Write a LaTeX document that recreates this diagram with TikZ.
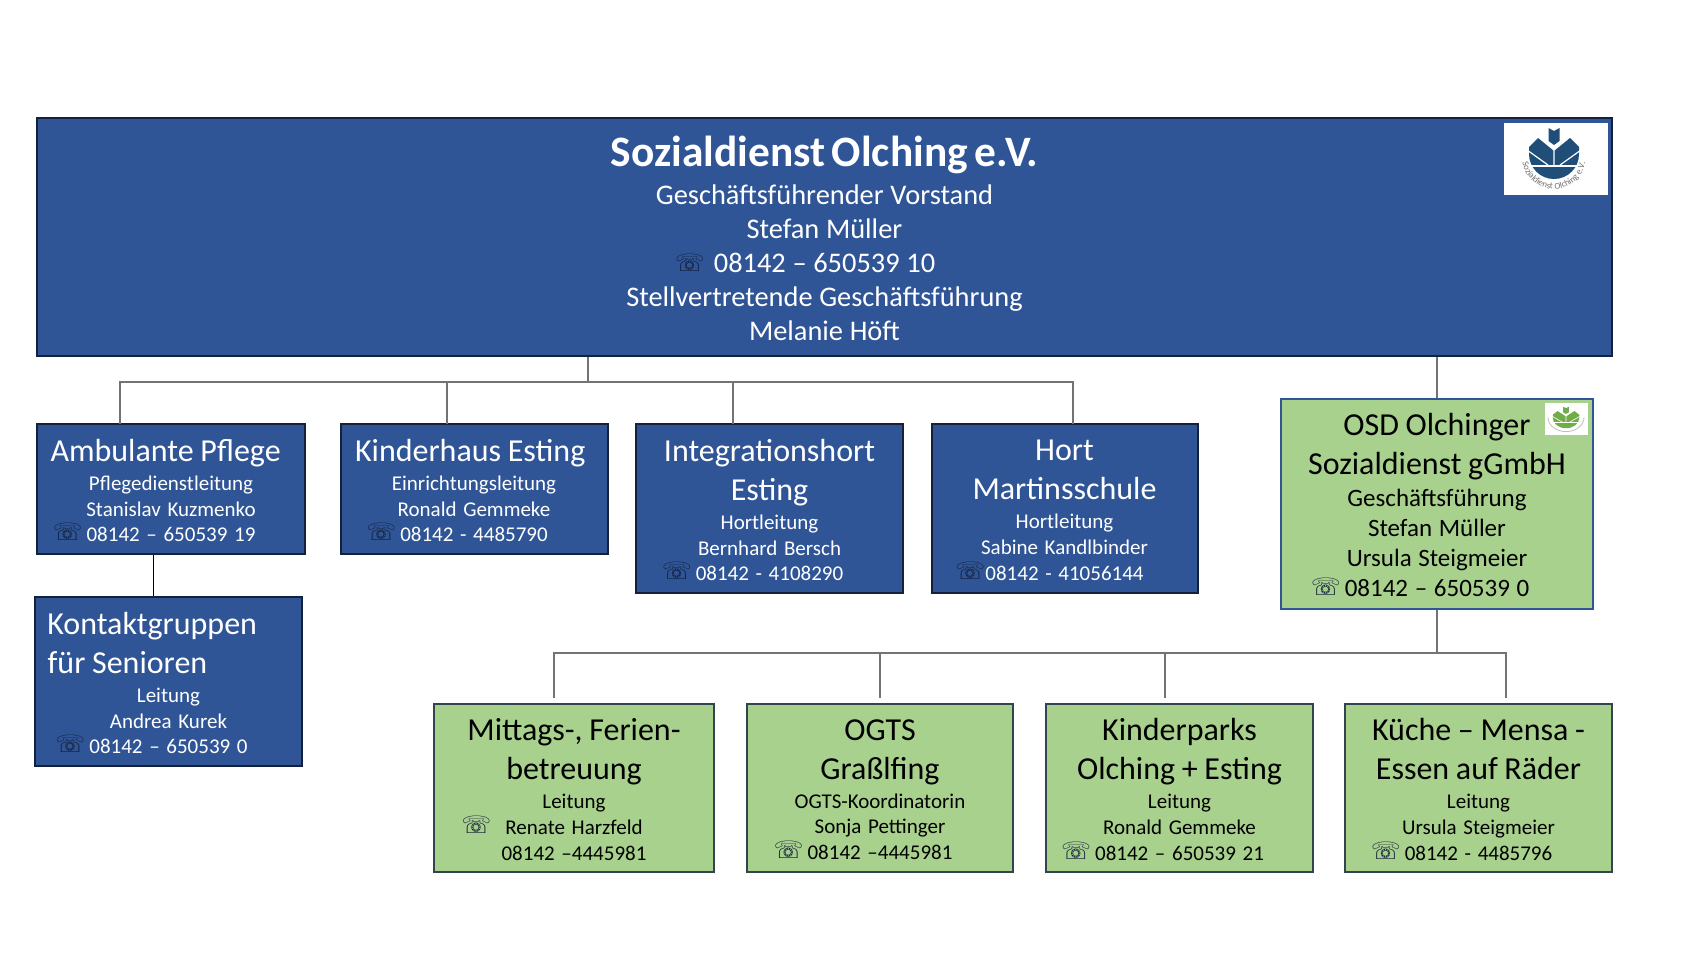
\documentclass[tikz,border=0pt]{standalone}
\usepackage{fontspec}
\setmainfont{Carlito}
\newfontfamily\phonefont{DejaVu Sans}
\usetikzlibrary{positioning}
\usetikzlibrary{decorations.text}
\definecolor{olching_blue}{HTML}{2F5597}
\definecolor{olching_green}{HTML}{A9D18E}
\definecolor{logo_blue}{HTML}{1F4E79}
\definecolor{logo_green}{HTML}{70AD47}
\definecolor{phone_dark}{HTML}{14213D}
\tikzstyle{org_box} = [
    rectangle,
    align=center,
    inner sep=0pt
]
\tikzstyle{blue_box} = [
    org_box,
    white,
    draw=phone_dark,
    line width=1pt,
    fill=olching_blue
]
\tikzstyle{green_box} = [
    org_box,
    black,
    draw=phone_dark!80!olching_green,
    line width=1pt,
    fill=olching_green
]
\tikzstyle{branch} = [
    draw=black!55,
    line width=0.6pt
]
\tikzset{
    box_size/.style 2 args={
        minimum width=#1*0.5pt,
        minimum height=#2*0.5pt,
        text width=#1*0.5pt-4pt
    }
}
\newcommand{\headline}[1]{{\fontsize{16}{19.5}\selectfont #1\par}}
\newcommand{\subline}[1]{{\fontsize{10.5}{12.9}\selectfont #1\par}}
\newcommand{\midline}[1]{{\fontsize{12.5}{15}\selectfont #1\par}}
\newcommand{\topline}[1]{{\fontsize{14.2}{17}\selectfont #1\par}}
\newcommand{\headgap}{\vspace{1.6pt}}
\newcommand{\tailgap}{\vspace{-1.6pt}}
\newcommand{\tel}[1][2pt]{\leavevmode\llap{\smash{\color{phone_dark}\fontsize{12}{12}\phonefont\raisebox{0.5pt}{☏}}\kern#1}}
\newcommand{\sdmark}[2]{
    \fill [#1] (-25,-3) arc (180:0:25) -- (25,-10) -- (16,-19) -- (0,-6) -- (-16,-19) -- (-25,-10) -- cycle;
    \fill [#1] (-5.5,-29) -- (0,-26) -- (5.5,-29) -- (5.5,-16) -- (0,-12) -- (-5.5,-16) -- cycle;
    \draw [white, line width=#2] (-28,9) -- (28,9);
    \draw [white, line width=#2] (0,-8) -- (0,9) (-27,-7) -- (-6,8) (27,-7) -- (6,8);
}
\begin{document}
\begin{tikzpicture}[x=0.5pt, y=-0.5pt]
\useasboundingbox (0,0) rectangle (1707,960);

% top row
\node [blue_box, box_size={1575}{238}, line width=1.2pt] (vorstand) at (824.5,237) {
    {\fontsize{21.7}{24}\bfseries\selectfont Sozialdienst Olching e.V.\par}
    \vspace{2.1pt}
    \topline{Geschäftsführender Vorstand}
    \topline{Stefan Müller}
    \topline{\tel[4.5pt]08142 – 650539 10}
    \topline{Stellvertretende Geschäftsführung}
    \topline{Melanie Höft}
    \vspace{-1.1pt}
};
\node [green_box, box_size={312}{210}, draw=olching_blue] (osd) at (1437,504) {
    \headline{OSD Olchinger}
    \headline{Sozialdienst gGmbH}
    \vspace{1.1pt}
    \midline{Geschäftsführung}
    \midline{Stefan Müller}
    \midline{Ursula Steigmeier}
    \midline{\tel08142 – 650539 0}
    \vspace{-1.1pt}
};

% blue boxes
\node [blue_box, box_size={268}{130}] (pflege) at (171,489) {
    \headline{Ambulante Pflege\kern5.4pt}
    \headgap
    \subline{Pflegedienstleitung}
    \subline{Stanislav Kuzmenko}
    \subline{\tel08142 – 650539 19}
    \tailgap
};
\node [blue_box, box_size={267}{130}] (esting) at (474,489) {
    \headline{Kinderhaus Esting\kern3.8pt}
    \headgap
    \subline{Einrichtungsleitung}
    \subline{Ronald Gemmeke}
    \subline{\tel08142 - 4485790}
    \tailgap
};
\node [blue_box, box_size={267}{169}] (integration) at (769.5,508.5) {
    \headline{Integrationshort}
    \headline{Esting}
    \headgap
    \subline{Hortleitung}
    \subline{Bernhard Bersch}
    \subline{\tel08142 - 4108290}
    \tailgap
};
\node [blue_box, box_size={266}{169}] (hort) at (1064.5,508.5) {
    \headline{Hort}
    \headline{Martinsschule}
    \headgap
    \subline{Hortleitung}
    \subline{Sabine Kandlbinder}
    \subline{\tel[0pt]08142 - 41056144}
    \tailgap
};
\node [blue_box, box_size={267}{169}] (kontakt) at (168.5,681.5) {
    \headline{Kontaktgruppen\kern16.3pt}
    \headline{für Senioren\kern41pt}
    \headgap
    \subline{Leitung}
    \subline{Andrea Kurek}
    \subline{\tel08142 – 650539 0}
    \tailgap
};

% green boxes
\node [green_box, box_size={280}{168}] (mittag) at (574,788) {
    \headline{Mittags-, Ferien-}
    \headline{betreuung}
    \headgap
    \subline{Leitung}
    \subline{\tel[7pt]Renate Harzfeld}
    \subline{08142 –4445981}
    \tailgap
};
\node [green_box, box_size={266}{168}] (ogts) at (880,788) {
    \headline{OGTS}
    \headline{Graßlfing}
    \headgap
    \subline{OGTS-Koordinatorin}
    \subline{Sonja Pettinger}
    \subline{\tel08142 –4445981}
    \tailgap
};
\node [green_box, box_size={267}{168}] (parks) at (1179.5,788) {
    \headline{Kinderparks}
    \headline{Olching + Esting}
    \headgap
    \subline{Leitung}
    \subline{Ronald Gemmeke}
    \subline{\tel08142 – 650539 21}
    \tailgap
};
\node [green_box, box_size={267}{168}] (kueche) at (1478.5,788) {
    \headline{Küche – Mensa -}
    \headline{Essen auf Räder}
    \headgap
    \subline{Leitung}
    \subline{Ursula Steigmeier}
    \subline{\tel08142 - 4485796}
    \tailgap
};

% connectors
\coordinate (top_bus) at (588,382);
\coordinate (osd_bus) at (1437,653);
\draw [branch] (vorstand.south -| top_bus) -- (top_bus);
\coordinate (tap_pflege) at (120,424);
\coordinate (tap_esting) at (447,424);
\coordinate (tap_integration) at (733,424);
\coordinate (tap_hort) at (1073,424);
\draw [branch] (tap_pflege) |- (top_bus);
\draw [branch] (tap_esting) -- (tap_esting |- top_bus);
\draw [branch] (tap_integration) -- (tap_integration |- top_bus);
\draw [branch] (tap_hort) |- (top_bus);
\draw [branch] (vorstand.south -| osd.north) -- (osd.north);
\draw [black, line width=0.5pt] (pflege.south -| 153,0) -- (kontakt.north -| 153,0);
\draw [branch] (osd.south) -- (osd_bus);
\coordinate (tap_mittag) at (554,698);
\coordinate (tap_ogts) at (880,698);
\coordinate (tap_parks) at (1165,698);
\coordinate (tap_kueche) at (1506,698);
\draw [branch] (tap_mittag) |- (osd_bus);
\draw [branch] (tap_ogts) -- (tap_ogts |- osd_bus);
\draw [branch] (tap_parks) -- (tap_parks |- osd_bus);
\draw [branch] (tap_kueche) |- (osd_bus);

% logos
\fill [white] (1504,123) rectangle (1608,195);
\begin{scope}[shift={(1554,157)}]
    \sdmark{logo_blue}{0.6pt}
    \path [decorate, decoration={text along path, text align=center,
        text={|\fontsize{4.5}{4.5}\selectfont\color{black!55}|Sozialdienst Olching e.V.}}]
        (-31,-8.3) arc (195:-15:32);
\end{scope}
\fill [white] (1545,403) rectangle (1588,435);
\begin{scope}[shift={(1566,419)}, xscale=0.53, yscale=0.42]
    \sdmark{logo_green}{0.3pt}
    \draw [black!25, line width=0.4pt] (-34,-4) arc (180:0:34);
\end{scope}
\end{tikzpicture}
\end{document}
